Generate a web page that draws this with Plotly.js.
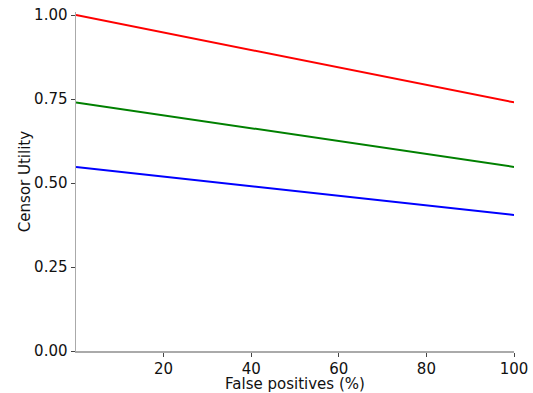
<!DOCTYPE html>
<html>
<head>
<meta charset="utf-8">
<script src="https://cdn.plot.ly/plotly-3.0.1.min.js"></script>
<style>html,body{margin:0;padding:0;background:#fff;}#chart{width:533px;height:393px;}</style>
</head>
<body>
<div id="chart"></div>
<script>
const xValues = [0, 100];
const redValues = [1.0, 0.74];
const greenValues = [0.74, 0.548];
const blueValues = [0.548, 0.405];
const xTicks = [20, 40, 60, 80, 100];
const yTicks = [0, 0.25, 0.5, 0.75, 1.0];
const yTickLabels = ['0.00', '0.25', '0.50', '0.75', '1.00'];

const traces = [
  {x: xValues, y: redValues, mode: 'lines', line: {color: '#ff0000', width: 2}},
  {x: xValues, y: greenValues, mode: 'lines', line: {color: '#008000', width: 2}},
  {x: xValues, y: blueValues, mode: 'lines', line: {color: '#0000ff', width: 2}}
];

const layout = {
  width: 533, height: 393,
  margin: {l: 76, r: 19, t: 12, b: 42},
  showlegend: false,
  paper_bgcolor: '#fff', plot_bgcolor: '#fff',
  font: {family: 'DejaVu Sans', color: '#111', size: 15},
  xaxis: {
    range: [0, 100], tickvals: xTicks, ticktext: xTicks.map(String),
    showgrid: false, zeroline: false, showline: true, linecolor: '#aaaaaa', linewidth: 1.5,
    ticks: 'outside', ticklen: 4, tickcolor: '#444', tickwidth: 1, ticklabelstandoff: -1,
    tickfont: {size: 15, family: 'DejaVu Sans', color: '#111'},
    title: {text: 'False positives (%)', font: {size: 15, family: 'DejaVu Sans', color: '#111'}, standoff: 0},
    automargin: false
  },
  yaxis: {
    range: [0, 1.009], tickvals: yTicks, ticktext: yTickLabels,
    showgrid: false, zeroline: false, showline: true, linecolor: '#aaaaaa', linewidth: 1.5,
    ticks: 'outside', ticklen: 4, tickcolor: '#444', tickwidth: 1,
    tickfont: {size: 15, family: 'DejaVu Sans', color: '#111'},
    title: {text: 'Censor Utility', font: {size: 15, family: 'DejaVu Sans', color: '#111'}, standoff: 0},
    automargin: false
  }
};

Plotly.newPlot('chart', traces, layout, {displayModeBar: false, staticPlot: true});
</script>
</body>
</html>
